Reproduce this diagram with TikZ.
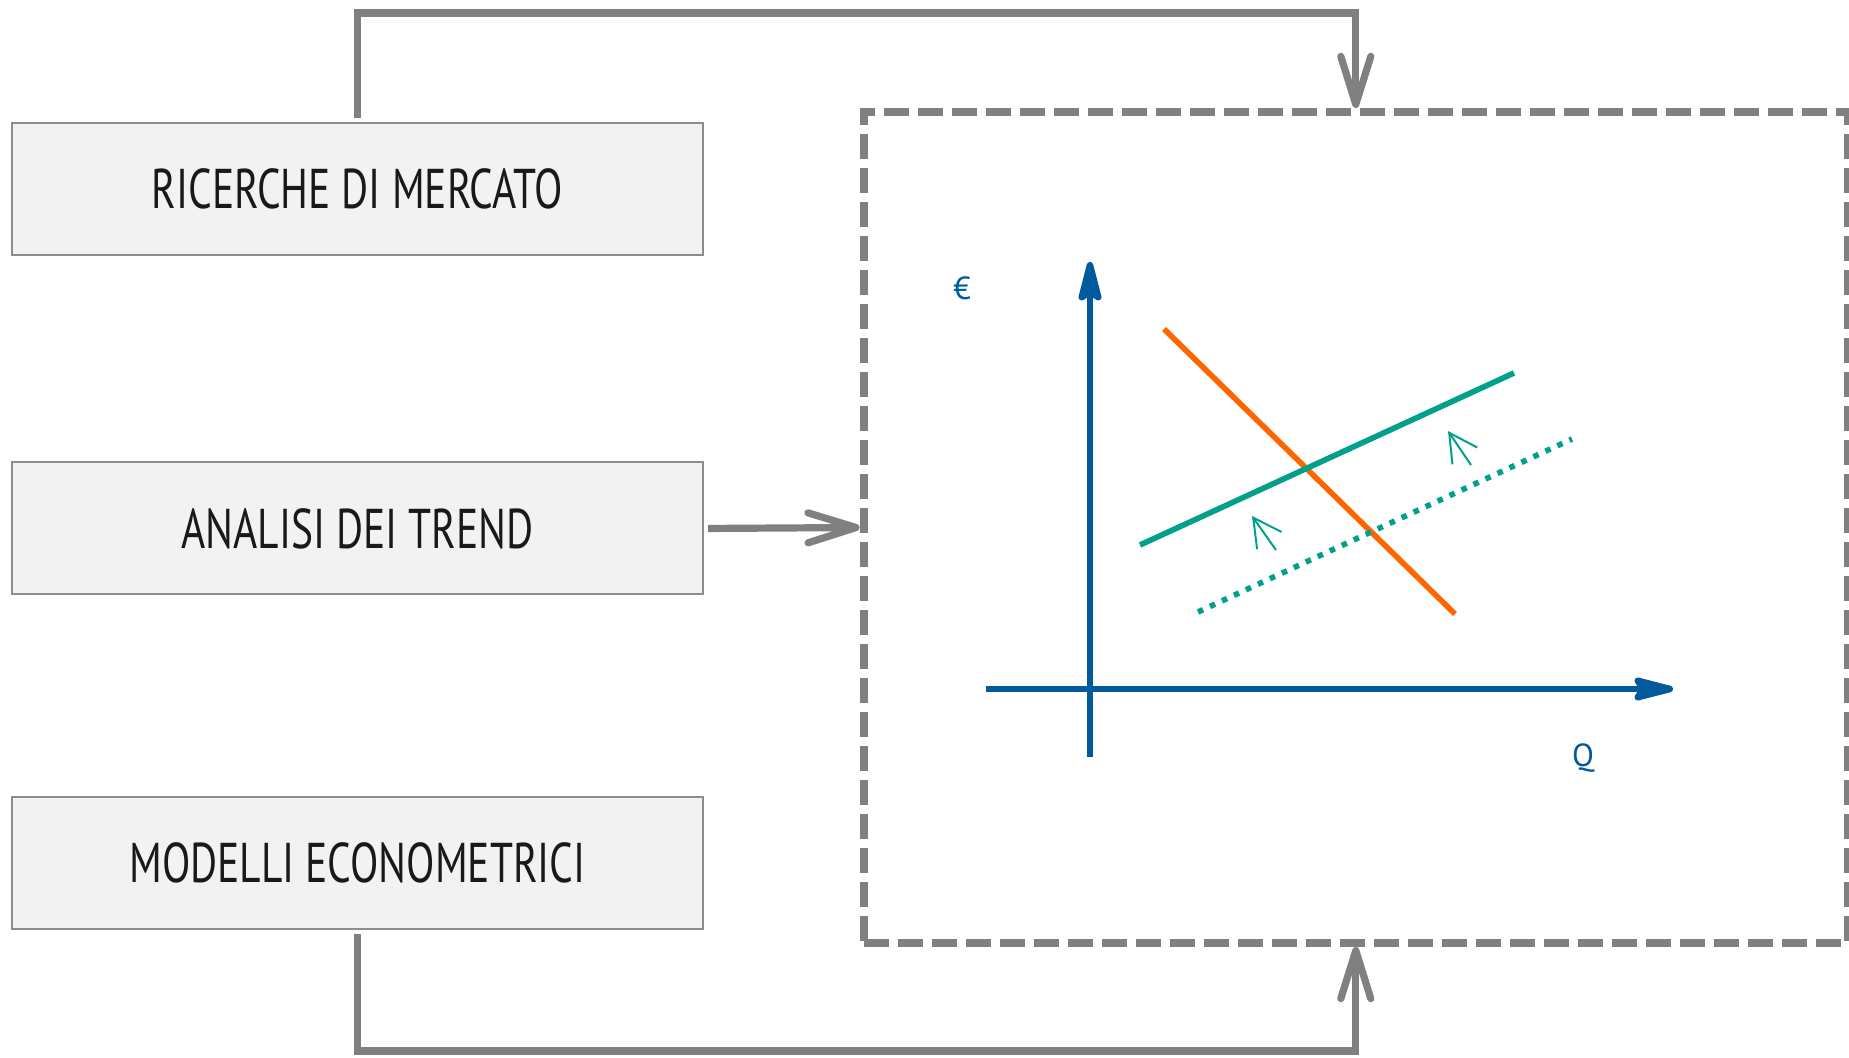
\documentclass[tikz,border=0pt]{standalone}
\usepackage{fontspec}
\setmainfont{PT Sans}
\newfontfamily\narrowfont[FakeStretch=0.74]{PT Sans}
\usetikzlibrary{arrows.meta}
\definecolor{cgray}{HTML}{808080}
\definecolor{cblue}{HTML}{005A9C}
\definecolor{cteal}{HTML}{00A08C}
\definecolor{corange}{HTML}{FF6600}
\definecolor{cfill}{HTML}{F2F2F2}
\tikzset{
  src/.style={draw=cgray!90, line width=1pt, fill=cfill, minimum width=345.5pt, minimum height=66pt,
    inner sep=0pt, font=\narrowfont\fontsize{28}{30}\selectfont, text=black!90},
  conn/.style={draw=cgray, line width=3.6pt, -{Straight Barb[length=24pt,width=15pt,round]}},
  axisline/.style={draw=cblue, line width=3.3pt, -{Stealth[length=26pt,width=13pt,inset=4pt,round]}},
  curve/.style={line width=2.8pt},
  shiftarrow/.style={draw=cteal, line width=1pt, -{Straight Barb[length=14pt,width=15pt]}},
  lbl/.style={text=cblue, font=\fontsize{16}{18}\selectfont, inner sep=0pt},
}
\begin{document}
\begin{tikzpicture}[x=0.5pt, y=-0.5pt]
\useasboundingbox (0,0) rectangle (1849,1058);
\node[src] (b1) at (357.5,189) {RICERCHE DI MERCATO};
\node[src] (b2) at (357.5,528.5) {ANALISI DEI TREND};
\node[src] (b3) at (357.5,863) {MODELLI ECONOMETRICI};
\node[draw=cgray, line width=4pt, dash pattern=on 12.5pt off 4.5pt, minimum width=492.2pt, minimum height=415.5pt, inner sep=0pt] (chart) at (1355.8,527.5) {};
\coordinate (ttop) at (357,13);
\coordinate (tbot) at (357,1051);
\draw[conn, shorten <=2pt] (b1.north) |- (chart.north |- ttop) -- (chart.north);
\draw[conn, shorten <=2pt] (b2.east) -- (chart.west);
\draw[conn, shorten <=2pt] (b3.south) |- (chart.south |- tbot) -- (chart.south);
% chart contents
\coordinate (yb) at (1090,757);
\coordinate (yt) at (1090,262);
\coordinate (xl) at (986,689);
\coordinate (xr) at (1673,689);
\draw[axisline] (yb) -- (yt);
\draw[axisline] (xl) -- (xr);
\node[lbl] (eur) at (962,288) {€};
\node[lbl] (q) at (1583,758) {Q};
\draw[curve, draw=corange] (1164,329) -- (1455,614);
\draw[curve, draw=cteal] (1140,545) -- (1514,373);
\draw[curve, draw=cteal, dash pattern=on 2.8pt off 3.8pt] (1198,612) -- (1572,439);
\draw[shiftarrow] (1276,550) -- (1252,516);
\draw[shiftarrow] (1471,465) -- (1448,431);
\end{tikzpicture}
\end{document}
